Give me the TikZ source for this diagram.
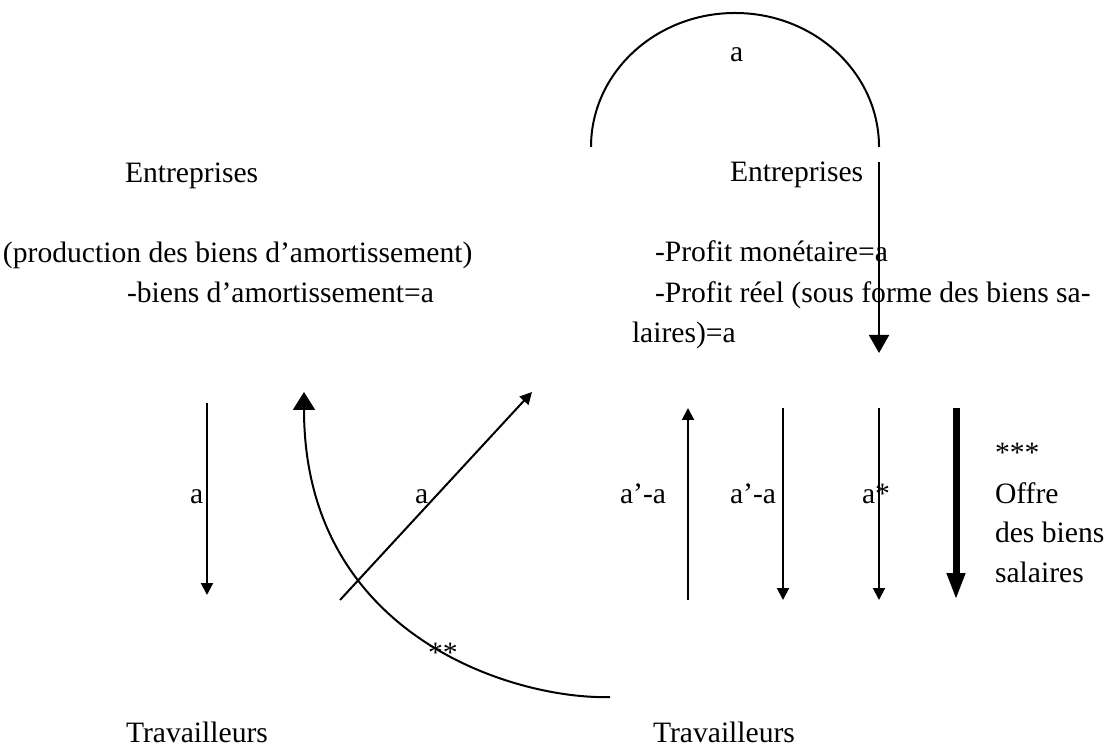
\documentclass[tikz,border=0pt]{standalone}
\usepackage{fontspec}
\setmainfont{Liberation Serif}
\usetikzlibrary{arrows.meta}

\tikzset{
  txt/.style={inner sep=0pt, outer sep=0pt, anchor=base west,
              font=\fontsize{14.8}{18}\selectfont},
  flow/.style={line width=1pt, -{Triangle[width=6pt,length=6pt]}},
  bigflow/.style={line width=1pt, -{Triangle[width=10pt,length=9pt]}},
  heavyflow/.style={line width=3.5pt, -{Triangle[width=8.5pt,length=13.5pt]}},
  loopline/.style={line width=1pt}
}

\begin{document}
\begin{tikzpicture}[x=0.5pt,y=-0.5pt]
  \path[use as bounding box] (0,0) rectangle (1106,747);

  % sector labels
  \node[txt] (entL)   at (125,183) {Entreprises};
  \node[txt] (entR)   at (730,182) {Entreprises};
  \node[txt] (prodL)  at (3,263)   {(production des biens d’amortissement)};
  \node[txt] (biensL) at (127,303) {-biens d’amortissement=a};
  \node[txt] (profM)  at (655,262) {-Profit monétaire=a};
  \node[txt] (profR)  at (655,303) {-Profit réel (sous forme des biens sa-};
  \node[txt] (laires) at (632,343) {laires)=a};
  \node[txt] (travL)  at (126,742) {Travailleurs};
  \node[txt] (travR)  at (653,742) {Travailleurs};

  % flow labels
  \node[txt] (topA)  at (730,62)  {a};
  \node[txt] (labA1) at (190,503) {a};
  \node[txt] (labA2) at (415,503) {a};
  \node[txt, anchor=base east] (labP1) at (666,503) {a’-a};
  \node[txt] (labP2) at (730,503) {a’-a};
  \node[txt] (labAs) at (862,503) {a*};
  \node[txt] (st2)   at (428,662) {**};
  \node[txt] (st3)   at (995,463) {***};
  \node[txt] (off1)  at (995,503) {Offre};
  \node[txt] (off2)  at (995,542) {des biens};
  \node[txt] (off3)  at (995,582) {salaires};

  % connector end points
  \coordinate (arcL) at (591,147);
  \coordinate (arcR) at (879,147);
  \coordinate (profTop) at (879,162);
  \coordinate (profBot) at (879,353);
  \coordinate (amTop) at (207,403);
  \coordinate (amBot) at (207,595);
  \coordinate (diagS) at (340,600);
  \coordinate (diagE) at (532,392);
  \coordinate (curS) at (610,697);
  \coordinate (curE) at (304,392);
  \coordinate (upS) at (688,600);
  \coordinate (upE) at (688,408);
  \coordinate (dnTwoS) at (783,408);
  \coordinate (dnTwoE) at (783,600);
  \coordinate (dnThreeS) at (879,408);
  \coordinate (dnThreeE) at (879,600);
  \coordinate (thS) at (956,408);
  \coordinate (thE) at (956,600);

  % profit loop over the right-hand firms
  \draw[loopline] (arcL) arc[start angle=180, end angle=360, x radius=144, y radius=134];
  \draw[bigflow] (profTop) -- (profBot);

  % flows between firms and workers
  \draw[flow] (amTop) -- (amBot);
  \draw[flow] (diagS) -- (diagE);
  \draw[line width=1pt, -{Triangle[width=11pt,length=9pt]}]
    (curS) .. controls (520,700) and (304,640) .. (curE);
  \draw[flow] (upS) -- (upE);
  \draw[flow] (dnTwoS) -- (dnTwoE);
  \draw[flow] (dnThreeS) -- (dnThreeE);
  \draw[heavyflow] (thS) -- (thE);
\end{tikzpicture}
\end{document}
